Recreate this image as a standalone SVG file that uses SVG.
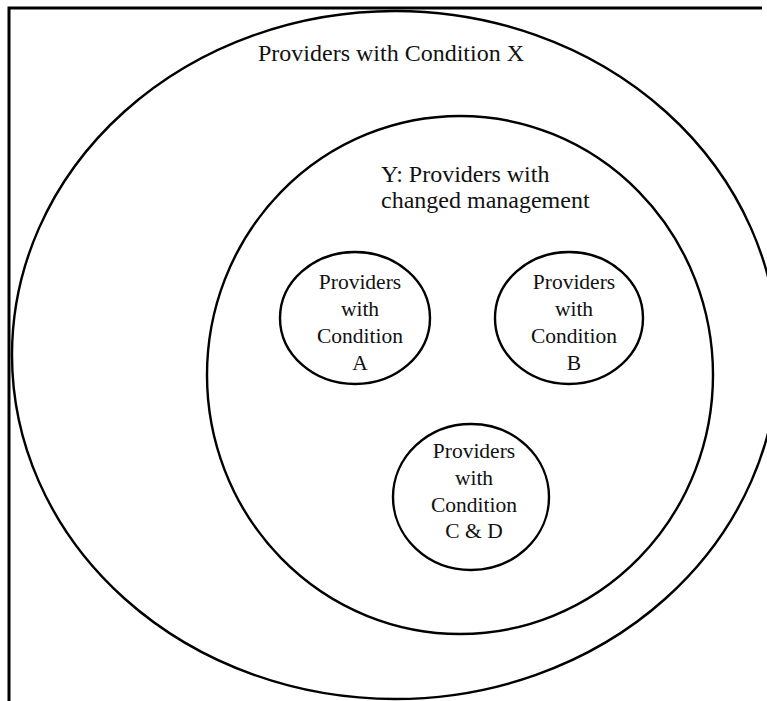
<svg xmlns="http://www.w3.org/2000/svg" width="767" height="701" viewBox="0 0 767 701">
  <style>
    .ring { fill: none; stroke: #000; stroke-width: 2.4; }
    .frame { fill: none; stroke: #000; stroke-width: 3; }
    .big { font-family: "Liberation Serif", "Times New Roman", serif; font-size: 24px; fill: #111; }
    .small { font-family: "Liberation Serif", "Times New Roman", serif; font-size: 21.5px; fill: #111; text-anchor: middle; }
  </style>
  <rect width="767" height="701" fill="#fff"/>
  <!-- open frame: top and left edges only -->
  <polyline class="frame" points="9,701 9,8 762,8"/>

  <g id="set-x">
    <ellipse class="ring" cx="395" cy="355" rx="383" ry="344"/>
    <text class="big" x="391" y="61" text-anchor="middle">Providers with Condition X</text>
  </g>

  <g id="set-y">
    <ellipse class="ring" cx="460" cy="375" rx="253" ry="259"/>
    <text class="big" x="381" y="182">Y: Providers with</text>
    <text class="big" x="381" y="208">changed management</text>
  </g>

  <g id="set-a">
    <ellipse class="ring" cx="355" cy="318" rx="75" ry="66"/>
    <text class="small" x="360" y="289">Providers</text>
    <text class="small" x="360" y="316">with</text>
    <text class="small" x="360" y="343">Condition</text>
    <text class="small" x="360" y="370">A</text>
  </g>

  <g id="set-b">
    <ellipse class="ring" cx="569" cy="318" rx="74" ry="66"/>
    <text class="small" x="574" y="289">Providers</text>
    <text class="small" x="574" y="316">with</text>
    <text class="small" x="574" y="343">Condition</text>
    <text class="small" x="574" y="370">B</text>
  </g>

  <g id="set-cd">
    <ellipse class="ring" cx="471" cy="497" rx="78" ry="73"/>
    <text class="small" x="474" y="458">Providers</text>
    <text class="small" x="474" y="485">with</text>
    <text class="small" x="474" y="512">Condition</text>
    <text class="small" x="474" y="538">C &amp; D</text>
  </g>

  <g id="connectors"/>
</svg>
